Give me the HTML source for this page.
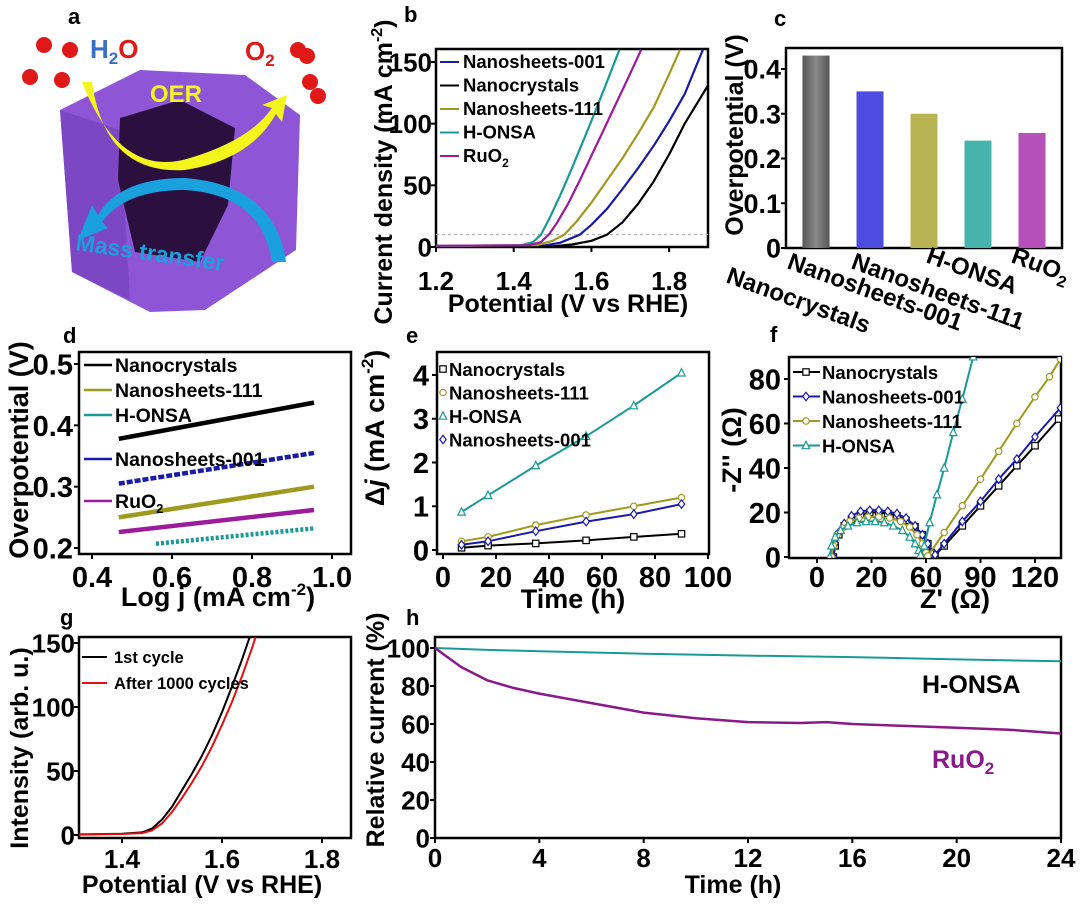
<!DOCTYPE html>
<html><head><meta charset="utf-8">
<style>
html,body{margin:0;padding:0;background:#fff;}
svg{display:block;font-family:"Liberation Sans",Arial,sans-serif;font-weight:bold;}
</style></head>
<body>
<svg id="chart" width="1080" height="905" viewBox="0 0 1080 905" xmlns="http://www.w3.org/2000/svg">
<defs>
<clipPath id="clipB"><rect x="436" y="49" width="272" height="198"/></clipPath>
<clipPath id="clipF"><rect x="789" y="357" width="272" height="201"/></clipPath>
<linearGradient id="gGray" x1="0" x2="1"><stop offset="0" stop-color="#555"/><stop offset="0.5" stop-color="#8a8a8a"/><stop offset="1" stop-color="#555"/></linearGradient>
</defs>

<!-- Panel a illustration -->
<g>
  <polygon points="60,110 140,70 245,75 300,115 296,250 205,310 150,312 72,272" fill="#8e55d6"/>
  <polygon points="60,110 120,130 130,300 72,272" fill="#7d47c4"/>
  <polygon points="120,118 180,100 235,128 228,205 200,262 135,252 118,180" fill="#2a0f3f"/>
  <path d="M82,82 Q120,180 190,158 Q250,140 272,108 L262,105 L287,95 L282,122 L276,114 Q250,160 185,170 Q105,175 92,82 Z" fill="#f5f51e"/>
  <path d="M286,262 Q275,185 185,178 Q120,178 98,215 L92,205 L78,240 L108,228 L102,222 Q125,190 185,190 Q262,195 272,262 Z" fill="#1aa0dc"/>
  <g fill="#e01818">
    <circle cx="44" cy="45" r="8"/><circle cx="70" cy="50" r="8"/><circle cx="30" cy="77" r="8"/><circle cx="62" cy="80" r="8"/>
  </g>
  <g fill="#e01818">
    <circle cx="298" cy="50" r="8"/><circle cx="307" cy="56" r="8"/><circle cx="310" cy="82" r="8"/><circle cx="318" cy="96" r="8"/>
  </g>
  <text x="90" y="58" font-size="26" fill="#3a6fc8">H<tspan font-size="17" dy="6">2</tspan><tspan dy="-6" fill="#e01818">O</tspan></text>
  <text x="245" y="60" font-size="26" fill="#e01818">O<tspan font-size="17" dy="6">2</tspan></text>
  <text x="150" y="102" font-size="24" fill="#f5f51e">OER</text>
  <text x="75" y="250" font-size="23" fill="#1aa0dc" transform="rotate(8 75 250)">Mass transfer</text>
</g>

<g font-size="22" fill="#000">
  <text x="68" y="24">a</text><text x="404" y="22">b</text><text x="774" y="26">c</text>
  <text x="63" y="343">d</text><text x="406" y="343">e</text><text x="770" y="342">f</text>
  <text x="60" y="625">g</text><text x="406" y="625">h</text>
</g>

<g fill="#000">
  <text font-size="25" text-anchor="middle" transform="translate(392 172) rotate(-90)">Current density (mA cm<tspan font-size="16" dy="-10">-2</tspan><tspan dy="10">)</tspan></text>
  <text font-size="25" text-anchor="middle" x="568" y="312">Potential (V vs RHE)</text>
  <text font-size="25" text-anchor="middle" transform="translate(743 135) rotate(-90)">Overpotential (V)</text>
  <text font-size="27" text-anchor="middle" transform="translate(28 450) rotate(-90)">Overpotential (V)</text>
  <text font-size="27" text-anchor="middle" x="218" y="606">Log j (mA cm<tspan font-size="17" dy="-11">-2</tspan><tspan dy="11">)</tspan></text>
  <text font-size="27" text-anchor="middle" transform="translate(384 428) rotate(-90)">Δ<tspan font-style="italic">j</tspan> (mA cm<tspan font-size="17" dy="-11">-2</tspan><tspan dy="11">)</tspan></text>
  <text font-size="27" text-anchor="middle" x="573" y="608">Time (h)</text>
  <text font-size="27" text-anchor="middle" transform="translate(741 450) rotate(-90)">-Z'' (Ω)</text>
  <text font-size="27" text-anchor="middle" x="955" y="608">Z' (Ω)</text>
  <text font-size="25" text-anchor="middle" transform="translate(28 748) rotate(-90)">Intensity (arb. u.)</text>
  <text font-size="25" text-anchor="middle" x="202" y="893">Potential (V vs RHE)</text>
  <text font-size="25" text-anchor="middle" transform="translate(384 730) rotate(-90)">Relative current (%)</text>
  <text font-size="25" text-anchor="middle" x="733" y="893">Time (h)</text>
  <text font-size="25" x="922" y="693">H-ONSA</text>
  <text font-size="25" x="932" y="768" fill="#8a1a8a">RuO<tspan font-size="17" dy="6">2</tspan></text>
</g>
</svg>
<script>
// ---------- data ----------
const bSeriesNames = ["Nanosheets-001","Nanocrystals","Nanosheets-111","H-ONSA","RuO2"];
const bV001 = [1.2,1.48,1.52,1.57,1.6,1.64,1.68,1.72,1.76,1.8,1.84,1.887];
const bJ001 = [0.5,1.2,3.5,10,18,31,47,64,82,102,124,160];
const bVNC = [1.2,1.5,1.55,1.6,1.64,1.68,1.72,1.76,1.8,1.84,1.9];
const bJNC = [0.3,0.6,2,5,10,20,35,53,75,100,131];
const bV111 = [1.2,1.46,1.5,1.53,1.56,1.6,1.64,1.68,1.72,1.76,1.8,1.828];
const bJ111 = [0.8,1.5,5,10,20,36,54,72,92,113,140,160];
const bVHO = [1.2,1.42,1.45,1.47,1.49,1.52,1.55,1.58,1.61,1.64,1.672];
const bJHO = [1,1.5,4,10,22,42,64,87,110,134,160];
const bVRu = [1.2,1.44,1.47,1.49,1.51,1.54,1.57,1.6,1.63,1.66,1.69,1.728];
const bJRu = [1,1.5,4,10,19,35,54,74,94,114,134,160];
const bXTicks = [1.2,1.4,1.6,1.8];
const bYTicks = [0,50,100,150];

const cCategories = ["Nanocrystals","Nanosheets-001","Nanosheets-111","H-ONSA","RuO2"];
const cValues = [0.43,0.35,0.30,0.24,0.257];
const cYTicks = [0,0.1,0.2,0.3,0.4];

const dNames = ["Nanocrystals","Nanosheets-111","H-ONSA","Nanosheets-001","RuO2"];
const dX0 = [0.467,0.467,0.56,0.467,0.467];
const dX1 = [0.955,0.955,0.955,0.955,0.955];
const dY0 = [0.378,0.25,0.207,0.305,0.226];
const dY1 = [0.437,0.30,0.232,0.355,0.262];
const dXTicks = [0.4,0.6,0.8,1.0];
const dYTicks = [0.2,0.3,0.4,0.5];

const eNames = ["Nanocrystals","Nanosheets-111","H-ONSA","Nanosheets-001"];
const eTime = [7,17,35,54,72,90];
const eNC = [0.05,0.1,0.15,0.22,0.3,0.37];
const eN111 = [0.2,0.3,0.57,0.8,1.0,1.2];
const eHO = [0.87,1.25,1.93,2.6,3.3,4.05];
const eN001 = [0.12,0.2,0.43,0.65,0.82,1.05];
const eXTicks = [0,20,40,60,80,100];
const eYTicks = [0,1,2,3,4];

const fNames = ["Nanocrystals","Nanosheets-001","Nanosheets-111","H-ONSA"];
const fNCre = [9,10,12,15,19,24,29,34,39,44,49,54,58,61,63,65,70,80,90,100,110,120,133];
const fNCim = [0,5,10,14,17,19,20,20,19.5,18.5,16.5,13.5,10,6,2,1,5,14,23,32,41,50,62];
const f001re = [9,10,12,15,19,24,29,34,39,44,49,54,58,61,63,65,70,80,90,100,110,120,134];
const f001im = [0,6,11,15,18.5,20.5,21,21,20.5,19.5,17.5,14,10,6,2,1,6,16,25,35,44,54,67];
const f111re = [8,9,11,14,18,23,28,34,40,46,51,55,58,60,61,70,80,90,100,110,120,128,134];
const f111im = [0,5,10,13,16,17.5,18,18,17.5,16,13.5,10,6,2,0.5,11,23,35,47.5,60,72,81,89];
const fHOre = [7,8,10,13,17,22,27,32,37,42,47,51,54,56,57,59,62,66,70,75,80,86,90];
const fHOim = [0,5,9,12,14,15.5,16,16,15.5,14,12,9,6,3,1,5,15.5,28,40,56,71,90,102];
const fXTicks = [0,30,60,90,120];
const fXLabels = ["0","20","60","90","120"];
const fYTicks = [0,20,40,60,80];

const gV1 = [1.31,1.35,1.40,1.44,1.46,1.48,1.50,1.52,1.54,1.56,1.58,1.60,1.62,1.64,1.66];
const gI1 = [0.5,0.7,1,2,5,12,22,35,48,62,78,96,116,137,160];
const gV2 = [1.31,1.35,1.40,1.44,1.46,1.48,1.50,1.52,1.54,1.56,1.58,1.60,1.62,1.64,1.66,1.68];
const gI2 = [0.3,0.5,0.8,1.5,3.5,9,18,29,41,54,69,86,104,124,146,170];
const gXTicks = [1.4,1.6,1.8];
const gYTicks = [0,50,100,150];

const hTimeHO = [0,2,4,8,12,16,20,24];
const hHO = [100,99,98.3,97,96,95.2,94,93];
const hTimeRu = [0,0.5,1,2,3,4,6,8,10,12,14,15,16,18,20,22,24];
const hRu = [100,95,90,83,79,76,71,66,63,61,60.5,61,60,59,58,57,55];
const hXTicks = [0,4,8,12,16,20,24];
const hYTicks = [0,20,40,60,80,100];

// ---------- helpers ----------
const NS = "http://www.w3.org/2000/svg";
const svg = document.getElementById("chart");
function mk(tag, attrs, parent) {
  const e = document.createElementNS(NS, tag);
  for (const k in attrs) e.setAttribute(k, attrs[k]);
  (parent || svg).appendChild(e);
  return e;
}
function lin(d0, r0, d1, r1) { return v => r0 + (v - d0) * (r1 - r0) / (d1 - d0); }
function pathD(xs, ys, X, Y) { return xs.map((v, i) => (i ? "L" : "M") + X(v).toFixed(1) + "," + Y(ys[i]).toFixed(1)).join(" "); }

function axes(name, L, R, T, B, X, Y, xt, xl, yt, yl, fs, xlY, ylX) {
  const g = mk("g", {});
  
  
  const fr = mk("rect", {x: L, y: T, width: R - L, height: B - T, fill: "none", stroke: "#000", "stroke-width": 2.5}, g);
  
  
  xt.forEach((v, i) => {
    const x = X(v);
    mk("line", {x1: x, x2: x, y1: B, y2: B + 5, stroke: "#000", "stroke-width": 2}, g);
    const t = mk("text", {x: x, y: xlY, "text-anchor": "middle", "font-size": fs}, g);
    t.textContent = xl[i];
    
    
  });
  yt.forEach((v, i) => {
    const y = Y(v);
    mk("line", {x1: L - 5, x2: L, y1: y, y2: y, stroke: "#000", "stroke-width": 2}, g);
    const t = mk("text", {x: ylX, y: y + fs * 0.36, "text-anchor": "end", "font-size": fs}, g);
    t.textContent = yl[i];
    
    
  });
}
function marker(shape, x, y, color, parent, fill) {
  const s = 3.2;
  let e;
  if (shape === "square") e = mk("rect", {x: x - s, y: y - s, width: 2 * s, height: 2 * s}, parent);
  else if (shape === "circle") e = mk("circle", {cx: x, cy: y, r: s}, parent);
  else if (shape === "tri") e = mk("polygon", {points: `${x},${y - s - 1} ${x - s - 0.5},${y + s} ${x + s + 0.5},${y + s}`}, parent);
  else e = mk("polygon", {points: `${x},${y - s - 1} ${x + s},${y} ${x},${y + s + 1} ${x - s},${y}`}, parent);
  e.setAttribute("fill", fill || "#fff");
  e.setAttribute("stroke", color);
  e.setAttribute("stroke-width", 1.2);
  return e;
}
const COL = {"Nanosheets-001": "#1a1aa8", "Nanocrystals": "#000", "Nanosheets-111": "#9d9a1e", "H-ONSA": "#1a9a94", "RuO2": "#9c1a9c"};

// ---------- panel b ----------
{
  const L = 436, R = 708, T = 49, B = 247;
  const X = lin(1.2, 436, 1.9, 708), Y = lin(0, 247, 150, 62);
  axes("b", L, R, T, B, X, Y, bXTicks, bXTicks.map(v => v.toFixed(1)), bYTicks, bYTicks.map(String), 26, 290, 432);
  const ref = mk("line", {x1: L, x2: R, y1: Y(10), y2: Y(10), stroke: "#aaa", "stroke-width": 1, "stroke-dasharray": "3,3"});
  
  
  const g = mk("g", {"clip-path": "url(#clipB)"});
  
  
  const sets = {"Nanosheets-001": [bV001, bJ001], "Nanocrystals": [bVNC, bJNC], "Nanosheets-111": [bV111, bJ111], "H-ONSA": [bVHO, bJHO], "RuO2": [bVRu, bJRu]};
  for (const n of bSeriesNames) {
    const p = mk("path", {d: pathD(sets[n][0], sets[n][1], X, Y), fill: "none", stroke: COL[n], "stroke-width": 2.2, "stroke-linejoin": "round"}, g);
    
    
  }
  bSeriesNames.forEach((n, i) => {
    const y = 62 + i * 23.5;
    const lg = mk("g", {});
    
    
    mk("line", {x1: 440, x2: 459, y1: y, y2: y, stroke: COL[n], "stroke-width": 2}, lg);
    const t = mk("text", {x: 463, y: y + 6, "font-size": 18.5}, lg);
    if (n === "RuO2") t.innerHTML = 'RuO<tspan font-size="12" dy="5">2</tspan>'; else t.textContent = n;
  });
}

// ---------- panel c ----------
{
  const L = 786, R = 1062, T = 48, B = 248;
  const Y = lin(0, 248, 0.4, 69);
  const xc = i => 816 + i * 54;
  axes("c", L, R, T, B, xc, Y, [], [], cYTicks, cYTicks.map(v => v === 0 ? "0" : v.toFixed(1)), 27, 0, 781);
  const fills = ["url(#gGray)", "#4c4ce0", "#b8b452", "#47b3ad", "#b54fb9"];
  cValues.forEach((v, i) => {
    const r = mk("rect", {x: xc(i) - 13.5, y: Y(v), width: 27, height: B - Y(v), fill: fills[i]});
    
    
  });
  const starts = [[725, 282], [786, 268], [850, 268], [925, 262], [1010, 262]];
  cCategories.forEach((n, i) => {
    const t = mk("text", {x: starts[i][0], y: starts[i][1], "font-size": 24, transform: `rotate(20 ${starts[i][0]} ${starts[i][1]})`});
    if (n === "RuO2") t.innerHTML = 'RuO<tspan font-size="16" dy="6">2</tspan>'; else t.textContent = n;
    
    
  });
}

// ---------- panel d ----------
{
  const L = 79, R = 351, T = 352, B = 554;
  const X = lin(0.4, 92, 1.0, 332), Y = lin(0.2, 548, 0.5, 364);
  axes("d", L, R, T, B, X, Y, dXTicks, dXTicks.map(v => v.toFixed(1)), dYTicks, dYTicks.map(v => v.toFixed(1)), 29, 587, 73);
  const cols = ["#000", "#9d9a1e", "#1a9a94", "#1a1aa8", "#9c1a9c"];
  dNames.forEach((n, i) => {
    const p = mk("line", {x1: X(dX0[i]), y1: Y(dY0[i]), x2: X(dX1[i]), y2: Y(dY1[i]), stroke: cols[i], "stroke-width": 4.5, "stroke-dasharray": n === "Nanosheets-001" ? "6,2" : n === "H-ONSA" ? "3,2" : "none"});
    
    
  });
  const ly = [365, 390, 415, 459, 501];
  dNames.forEach((n, i) => {
    const lg = mk("g", {});
    
    
    mk("line", {x1: 84, x2: 112, y1: ly[i], y2: ly[i], stroke: cols[i], "stroke-width": 2.5}, lg);
    const t = mk("text", {x: 115, y: ly[i] + 7, "font-size": 19.5}, lg);
    if (n === "RuO2") t.innerHTML = 'RuO<tspan font-size="13" dy="5">2</tspan>'; else t.textContent = n;
  });
}

// ---------- panel e ----------
{
  const L = 437, R = 709, T = 352, B = 554;
  const X = lin(0, 443, 100, 708), Y = lin(0, 550, 4, 375);
  axes("e", L, R, T, B, X, Y, eXTicks, eXTicks.map(String), eYTicks, eYTicks.map(String), 29, 587, 429);
  const data = [eNC, eN111, eHO, eN001];
  const cols = ["#000", "#9d9a1e", "#1a9a94", "#1a1aa8"];
  const shapes = ["square", "circle", "tri", "diamond"];
  data.forEach((arr, i) => {
    const g = mk("g", {});
    
    
    mk("path", {d: pathD(eTime, arr, X, Y), fill: "none", stroke: cols[i], "stroke-width": 2}, g);
    eTime.forEach((t, j) => marker(shapes[i], X(t), Y(arr[j]), cols[i], g));
  });
  eNames.forEach((n, i) => {
    const y = 369 + i * 23.5;
    const lg = mk("g", {});
    
    
    marker(shapes[i], 443, y, cols[i], lg);
    const t = mk("text", {x: 449, y: y + 7, "font-size": 18.5}, lg);
    t.textContent = n;
  });
}

// ---------- panel f ----------
{
  const L = 789, R = 1061, T = 357, B = 558;
  const X = lin(0, 817, 30, 871.5), Y = lin(0, 557, 20, 512.5);
  axes("f", L, R, T, B, X, Y, fXTicks, fXLabels, fYTicks, fYTicks.map(String), 29, 587, 781);
  const sets = [[fNCre, fNCim], [f001re, f001im], [f111re, f111im], [fHOre, fHOim]];
  const cols = ["#000", "#1a1aa8", "#9d9a1e", "#1a9a94"];
  const shapes = ["square", "diamond", "circle", "tri"];
  const g = mk("g", {"clip-path": "url(#clipF)"});
  
  
  sets.forEach((s, i) => {
    const sg = mk("g", {}, g);
    
    
    mk("path", {d: pathD(s[0], s[1], X, Y), fill: "none", stroke: cols[i], "stroke-width": 2}, sg);
    s[0].forEach((v, j) => marker(shapes[i], X(v), Y(s[1][j]), cols[i], sg));
  });
  fNames.forEach((n, i) => {
    const y = 372 + i * 24.5;
    const lg = mk("g", {});
    
    
    mk("line", {x1: 793, x2: 820, y1: y, y2: y, stroke: cols[i], "stroke-width": 2}, lg);
    marker(shapes[i], 806, y, cols[i], lg);
    const t = mk("text", {x: 822, y: y + 7, "font-size": 18.5}, lg);
    t.textContent = n;
  });
}

// ---------- panel g ----------
{
  const L = 79, R = 351, T = 637, B = 838;
  const X = lin(1.4, 122, 1.6, 222), Y = lin(0, 835, 150, 643);
  axes("g", L, R, T, B, X, Y, gXTicks, gXTicks.map(v => v.toFixed(1)), gYTicks, gYTicks.map(String), 26, 868, 75);
  const clip = mk("clipPath", {id: "clipG"});
  mk("rect", {x: L, y: T, width: R - L, height: B - T}, clip);
  const g = mk("g", {"clip-path": "url(#clipG)"});
  
  
  const p1 = mk("path", {d: pathD(gV1, gI1, X, Y), fill: "none", stroke: "#000", "stroke-width": 2}, g);
  
  
  const p2 = mk("path", {d: pathD(gV2, gI2, X, Y), fill: "none", stroke: "#e01010", "stroke-width": 2}, g);
  
  
  [["1st cycle", "#000"], ["After 1000 cycles", "#e01010"]].forEach((e, i) => {
    const y = 657 + i * 26;
    const lg = mk("g", {});
    
    
    mk("line", {x1: 82, x2: 107, y1: y, y2: y, stroke: e[1], "stroke-width": 2}, lg);
    const t = mk("text", {x: 114, y: y + 6, "font-size": 16.5}, lg);
    t.textContent = e[0];
  });
}

// ---------- panel h ----------
{
  const L = 435, R = 1061, T = 637, B = 838;
  const X = lin(0, 435, 24, 1061), Y = lin(0, 838, 100, 648);
  axes("h", L, R, T, B, X, Y, hXTicks, hXTicks.map(String), hYTicks, hYTicks.map(String), 26, 867, 430);
  const p1 = mk("path", {d: pathD(hTimeHO, hHO, X, Y), fill: "none", stroke: "#1a9a94", "stroke-width": 2});
  
  
  const p2 = mk("path", {d: pathD(hTimeRu, hRu, X, Y), fill: "none", stroke: "#8a1a8a", "stroke-width": 2.5, "stroke-linejoin": "round"});
  
  
}
</script>
</body></html>
